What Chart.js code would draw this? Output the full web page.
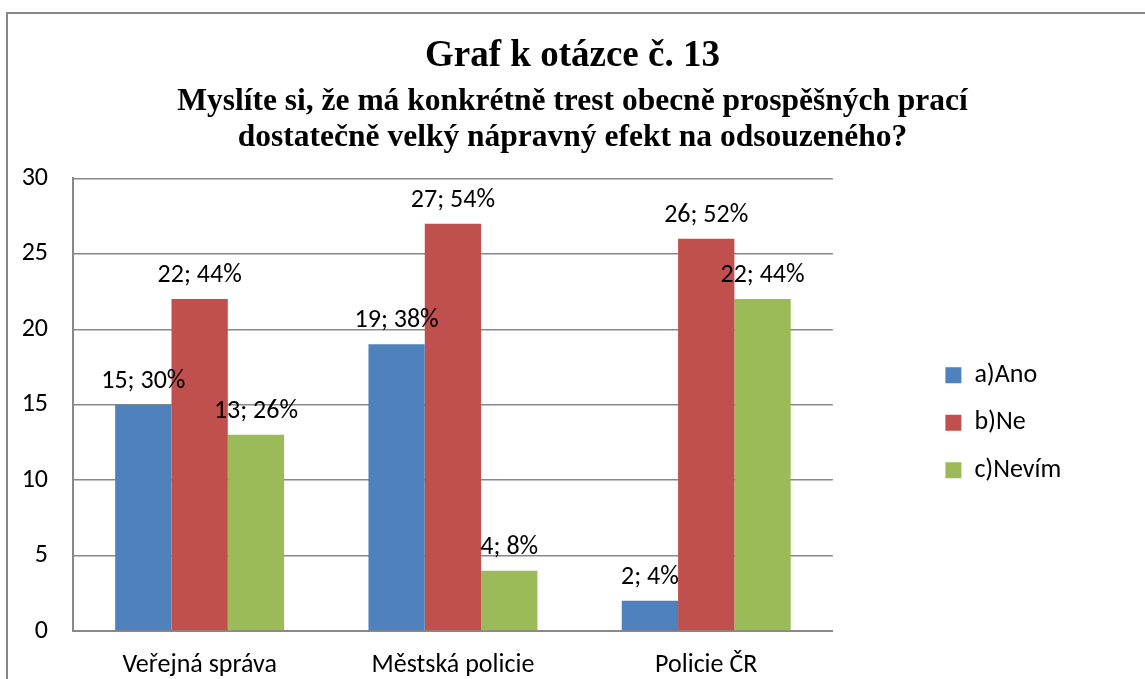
<!DOCTYPE html>
<html lang="cs">

<head>
    <meta charset="UTF-8">
    <title>Graf k otázce č. 13</title>
    <script src="https://cdn.jsdelivr.net/npm/chart.js"></script>
    <style>
        body { margin: 0; background: #fff; }
        #wrap { position: relative; width: 1145px; height: 679px; overflow: hidden; }
        #frame { position: absolute; left: 6px; top: 12px; width: 1300px; height: 900px; border: 2px solid #878787; }
        #box { position: absolute; left: 0; top: 0; width: 1145px; height: 679px; }
    </style>
</head>

<body>
    <div id="wrap">
        <div id="frame"></div>
        <div id="box">
            <canvas id="myChart"></canvas>
        </div>
    </div>
</body>

<script>

    const categories = ['Veřejná správa', 'Městská policie', 'Policie ČR']
    const seriesNames = ['a)Ano', 'b)Ne', 'c)Nevím']
    const ano = [15, 19, 2]
    const ne = [22, 27, 26]
    const nevim = [13, 4, 22]
    const anoPct = [30, 38, 4]
    const nePct = [44, 54, 52]
    const nevimPct = [26, 8, 44]
    const yTicks = [0, 5, 10, 15, 20, 25, 30]

    const colors = ['#4F81BD', '#C0504D', '#9BBB59']
    const sans = "Carlito, Calibri, Lato, sans-serif"
    const serif = "'Times New Roman', 'Liberation Serif', serif"

    // "15; 30%" style labels above every bar
    const barLabels = {
        id: 'barLabels',
        afterDatasetsDraw(chart) {
            const ctx = chart.ctx
            ctx.save()
            ctx.font = '26px ' + sans
            ctx.fillStyle = '#000'
            ctx.textAlign = 'center'
            ctx.textBaseline = 'alphabetic'
            chart.data.datasets.forEach((ds, i) => {
                chart.getDatasetMeta(i).data.forEach((bar, j) => {
                    ctx.fillText(ds.data[j] + '; ' + ds.pct[j] + '%', bar.x, bar.y - 17)
                })
            })
            ctx.restore()
        }
    }

    // empty axes used only to hold space around the legend
    const spacer = (w, weight) => ({
        type: 'linear',
        position: 'right',
        weight: weight,
        grid: { display: false },
        border: { display: false },
        ticks: { display: false },
        afterFit(s) { s.width = w }
    })

    const chart = new Chart(
        document.getElementById('myChart'),
        {
            type: 'bar',
            data: {
                labels: categories,
                datasets: [
                    { label: seriesNames[0], data: ano, pct: anoPct, backgroundColor: colors[0] },
                    { label: seriesNames[1], data: ne, pct: nePct, backgroundColor: colors[1] },
                    { label: seriesNames[2], data: nevim, pct: nevimPct, backgroundColor: colors[2] }
                ]
            },
            options: {
                responsive: true,
                maintainAspectRatio: false,
                animation: false,
                layout: { padding: 0 },
                datasets: { bar: { categoryPercentage: 0.667, barPercentage: 1 } },
                scales: {
                    x: {
                        afterFit(s) { s.height = 48 },
                        grid: { display: false, drawTicks: false },
                        border: { color: '#888', width: 2 },
                        ticks: { color: '#000', padding: 19, font: { family: sans, size: 26 } }
                    },
                    y: {
                        min: 0,
                        max: 30,
                        afterBuildTicks(s) { s.ticks = yTicks.map(v => ({ value: v })) },
                        afterFit(s) { s.width = 73 },
                        grid: { color: '#888', lineWidth: 1.5, drawTicks: false },
                        border: { color: '#888', width: 2 },
                        ticks: { color: '#000', padding: 25, font: { family: sans, size: 26 } }
                    },
                    gap: spacer(91, 0),
                    gapOut: spacer(78, 2000)
                },
                plugins: {
                    title: {
                        display: true,
                        text: 'Graf k otázce č. 13',
                        color: '#000',
                        font: { family: serif, size: 37, weight: 'bold' },
                        padding: { top: 34, bottom: 0 }
                    },
                    subtitle: {
                        display: true,
                        text: ['Myslíte si, že má konkrétně trest obecně prospěšných prací',
                            'dostatečně velký nápravný efekt na odsouzeného?'],
                        color: '#000',
                        font: { family: serif, size: 31.5, weight: 'bold', lineHeight: '36px' },
                        padding: { top: 5, bottom: 23 }
                    },
                    legend: {
                        position: 'right',
                        align: 'center',
                        fullSize: false,
                        title: { display: true, text: '', padding: 0, font: { size: 30 } },
                        labels: {
                            color: '#000',
                            boxWidth: 16,
                            boxHeight: 16,
                            padding: 21.5,
                            font: { family: sans, size: 26 }
                        }
                    },
                    tooltip: { enabled: false }
                }
            },
            plugins: [barLabels]
        });

</script>

</html>
